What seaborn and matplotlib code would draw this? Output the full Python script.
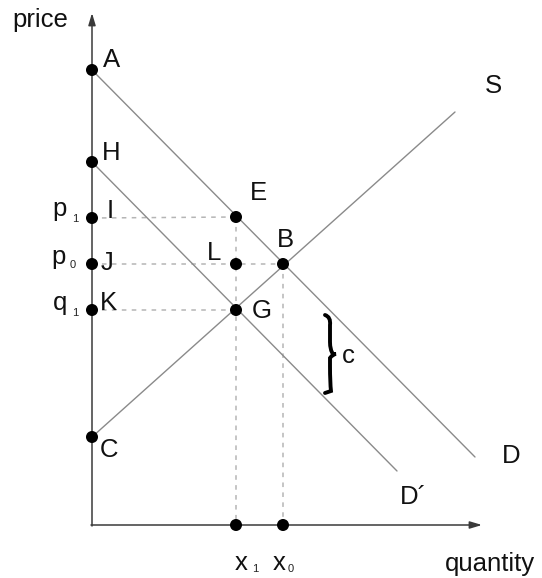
import numpy as np
import pandas as pd
import seaborn as sns
import matplotlib.pyplot as plt
from matplotlib.path import Path
from matplotlib.patches import PathPatch

# points on the diagram (quantity, price)
point_names = ['A', 'H', 'I', 'J', 'K', 'C', 'E', 'L', 'B', 'G', 'x1', 'x0']
point_x = [0, 0, 0, 0, 0, 0, 1.44, 1.44, 1.91, 1.44, 1.44, 1.91]
point_y = [4.55, 3.63, 3.07, 2.61, 2.15, 0.88, 3.08, 2.61, 2.61, 2.15, 0, 0]

# curves: start and end points
curve_names = ['D', "D'", 'S']
curve_x = [[0, 3.83], [0, 3.05], [0, 3.63]]
curve_y = [[4.55, 0.68], [3.63, 0.54], [0.88, 4.13]]

# dotted guide lines (from, to)
guides = [('I', 'E'), ('J', 'B'), ('K', 'G'), ('E', 'x1'), ('B', 'x0')]

sns.set_theme(style='white')
plt.rcParams['font.family'] = ['Liberation Sans', 'DejaVu Sans']

fig = plt.figure(figsize=(5.42, 5.78), dpi=100)
ax = fig.add_axes([0, 0, 1, 1])
ax.set_xlim(-0.92, 4.50)
ax.set_ylim(-0.53, 5.25)
ax.axis('off')

pts = pd.DataFrame({'name': point_names, 'x': point_x, 'y': point_y}).set_index('name')

for (a, b) in guides:
    ax.plot([pts.loc[a, 'x'], pts.loc[b, 'x']], [pts.loc[a, 'y'], pts.loc[b, 'y']],
            color='#b5b5b5', lw=1.1, linestyle=(0, (3, 3.5)), zorder=1)

for name, xs, ys in zip(curve_names, curve_x, curve_y):
    d = pd.DataFrame({'x': xs, 'y': ys})
    sns.lineplot(data=d, x='x', y='y', sort=False, color='#8a8a8a', lw=1.0, ax=ax, zorder=2)

# axes with arrows
arr = dict(arrowstyle='-|>,head_length=0.6,head_width=0.18', color='#3a3a3a', lw=1.1, shrinkA=0, shrinkB=0)
ax.annotate('', xy=(0, 5.12), xytext=(0, -0.01), arrowprops=arr)
ax.annotate('', xy=(3.90, 0), xytext=(-0.01, 0), arrowprops=arr)

sns.scatterplot(data=pts.reset_index(), x='x', y='y', color='black', s=75, edgecolor='none', ax=ax, zorder=5)

fs = 18.5
labels = [('price', -0.80, 4.98), ('A', 0.11, 4.58), ('H', 0.10, 3.65), ('I', 0.15, 3.07),
          ('J', 0.09, 2.55), ('K', 0.08, 2.15), ('C', 0.08, 0.68), ('E', 1.58, 3.25),
          ('L', 1.15, 2.65), ('B', 1.85, 2.78), ('G', 1.60, 2.07), ('S', 3.93, 4.32),
          ('D', 4.10, 0.62), ('D\u00b4', 3.08, 0.21), ('c', 2.50, 1.62),
          ('p', -0.40, 3.09), ('p', -0.41, 2.61), ('q', -0.39, 2.15),
          ('x', 1.43, -0.45), ('x', 1.81, -0.45), ('quantity', 3.53, -0.46)]
for t, x, y in labels:
    ax.text(x, y, t, fontsize=fs, ha='left', va='baseline', color='#111111')

subs = [('1', -0.20, 3.03), ('0', -0.22, 2.57), ('1', -0.20, 2.09), ('1', 1.60, -0.47), ('0', 1.96, -0.47)]
for t, x, y in subs:
    ax.text(x, y, t, fontsize=8, ha='left', va='baseline', color='#222222')

# brace
bx, top, bot, mid = 2.33, 2.10, 1.32, 1.71
verts = [(bx, top), (bx + 0.06, top - 0.02), (bx + 0.05, top - 0.10), (bx + 0.05, mid + 0.12),
         (bx + 0.05, mid + 0.04), (bx + 0.08, mid), (bx + 0.11, mid),
         (bx + 0.08, mid), (bx + 0.05, mid - 0.04), (bx + 0.05, mid - 0.12),
         (bx + 0.05, bot + 0.10), (bx + 0.06, bot + 0.02), (bx, bot)]
codes = [Path.MOVETO, Path.CURVE3, Path.CURVE3, Path.LINETO,
         Path.CURVE3, Path.CURVE3, Path.LINETO,
         Path.CURVE3, Path.CURVE3, Path.LINETO,
         Path.CURVE3, Path.CURVE3, Path.LINETO]
ax.add_patch(PathPatch(Path(verts, codes), fill=False, lw=2.8, color='black', capstyle='round'))

fig.savefig('out.png', dpi=100)
